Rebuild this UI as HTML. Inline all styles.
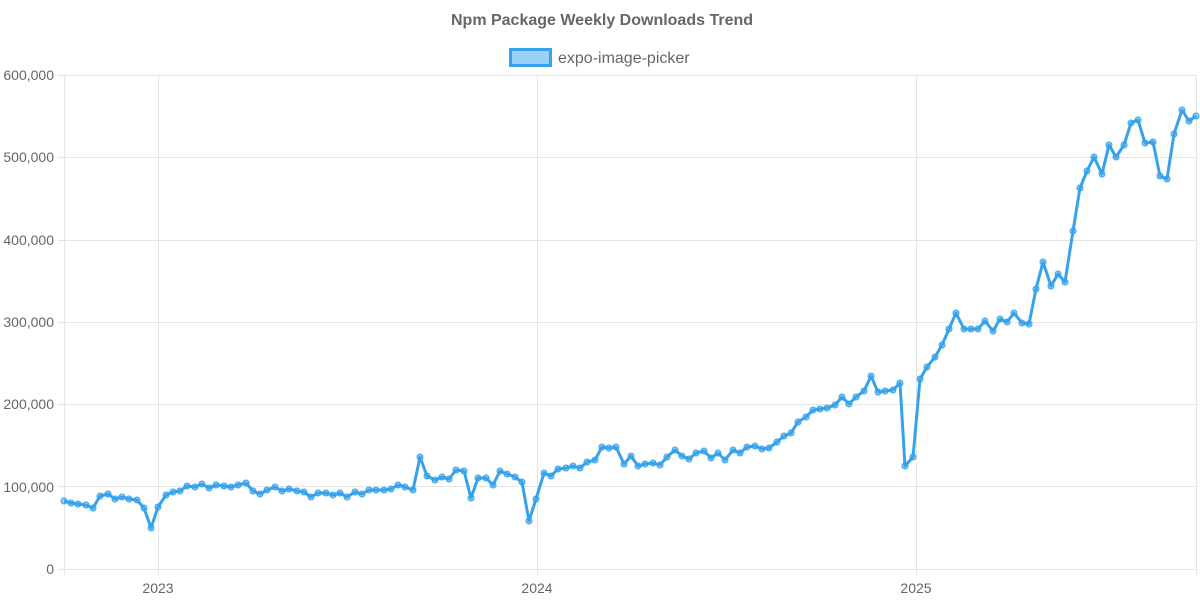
<!DOCTYPE html>
<html><head><meta charset="utf-8"><style>
html,body{margin:0;padding:0;background:#fff;}
svg{display:block;font-family:"Liberation Sans",Arial,sans-serif;}
</style></head><body>
<svg id="c" width="1200" height="600" xmlns="http://www.w3.org/2000/svg">
<text x="602" y="25" text-anchor="middle" font-size="16" font-weight="bold" fill="#666">Npm Package Weekly Downloads Trend</text>
<rect x="510.5" y="49.5" width="40" height="16" fill="rgba(54,162,235,0.5)" stroke="#36A2EB" stroke-width="3"/>
<text x="558" y="63" font-size="16" fill="#666">expo-image-picker</text>
<g stroke="#e5e5e5" stroke-width="1">
<line x1="58" y1="75.5" x2="1196" y2="75.5"/>
<line x1="58" y1="157.5" x2="1196" y2="157.5"/>
<line x1="58" y1="240.5" x2="1196" y2="240.5"/>
<line x1="58" y1="322.5" x2="1196" y2="322.5"/>
<line x1="58" y1="404.5" x2="1196" y2="404.5"/>
<line x1="58" y1="486.5" x2="1196" y2="486.5"/>
<line x1="58" y1="569.5" x2="1196" y2="569.5"/>
<line x1="64.5" y1="75" x2="64.5" y2="575"/>
<line x1="158.5" y1="75" x2="158.5" y2="575"/>
<line x1="537.5" y1="75" x2="537.5" y2="575"/>
<line x1="916.5" y1="75" x2="916.5" y2="575"/>
<line x1="1196.5" y1="75" x2="1196.5" y2="575"/>
</g>
<g font-size="14" fill="#666" text-anchor="end">
<text x="54" y="80">600,000</text>
<text x="54" y="162">500,000</text>
<text x="54" y="245">400,000</text>
<text x="54" y="327">300,000</text>
<text x="54" y="409">200,000</text>
<text x="54" y="492">100,000</text>
<text x="54" y="574">0</text>
</g>
<g font-size="14" fill="#666" text-anchor="middle">
<text x="158" y="593">2023</text>
<text x="537" y="593">2024</text>
<text x="916" y="593">2025</text>
</g>
<polyline id="ln" fill="none" stroke="#36A2EB" stroke-width="3" stroke-linejoin="round"/>
<g id="pts"></g>
</svg>
<script>
var d=[64,501,71,503,78,504,86,505,93,508,100,496,108,494,115,499,122,497,129,499,137,500,144,508,151,528,158,507,166,495,173,492,180,491,187,486,195,487,202,484,209,488,216,485,224,486,231,487,238,485,246,483,253,491,260,494,267,490,275,487,282,491,289,489,297,491,304,492,311,497,318,493,326,493,333,495,340,493,347,497,355,492,362,494,369,490,376,490,384,490,391,489,398,485,405,487,413,490,420,457,427,476,435,480,442,477,449,479,456,470,464,471,471,498,478,478,486,478,493,485,500,471,507,474,515,477,522,482,529,521,536,499,544,473,551,476,558,469,566,468,573,466,580,468,587,462,595,460,602,447,609,448,616,447,624,464,631,456,638,466,645,464,653,463,660,465,667,457,675,450,682,456,689,459,696,453,704,451,711,458,718,453,725,460,733,450,740,453,747,447,755,446,762,449,769,448,777,442,784,436,791,433,798,422,806,417,813,410,820,409,827,408,835,405,842,397,849,404,856,397,864,391,871,376,878,392,885,391,893,390,900,383,905,466,913,457,920,379,927,367,935,357,942,345,949,329,956,313,964,329,971,329,978,329,985,321,993,331,1000,319,1007,322,1014,313,1022,323,1029,324,1036,289,1043,262,1051,286,1058,274,1065,282,1073,231,1080,188,1087,171,1094,157,1102,174,1109,145,1116,157,1124,145,1131,123,1138,120,1145,143,1153,142,1160,176,1167,179,1174,134,1182,110,1189,121,1196,116];
var s="",g="";
for(var i=0;i<d.length;i+=2){s+=d[i]+","+d[i+1]+" ";g+='<circle cx="'+d[i]+'" cy="'+d[i+1]+'" r="3" fill="rgba(54,162,235,0.5)" stroke="#36A2EB" stroke-width="1"/>';}
document.getElementById("ln").setAttribute("points",s);
document.getElementById("pts").innerHTML=g;
</script>
</body></html>
